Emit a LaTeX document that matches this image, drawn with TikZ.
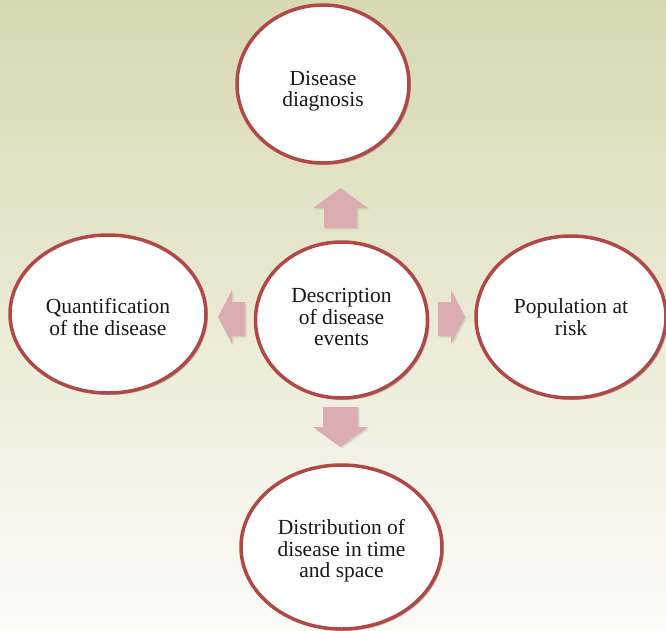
\documentclass[tikz,border=0pt]{standalone}
\usepackage{fontspec}
\setmainfont{Liberation Serif}
\usetikzlibrary{shapes.geometric,shadows}
\definecolor{ringred}{RGB}{176,72,69}
\definecolor{arrowpink}{RGB}{219,173,176}
\definecolor{bgtop}{RGB}{216,216,178}
\definecolor{bgbot}{RGB}{252,252,248}
\tikzset{
  bubble/.style={ellipse, draw=ringred, line width=3.5pt, fill=white, inner sep=0pt,
    drop shadow={shadow xshift=2pt, shadow yshift=-2pt, opacity=0.35, fill=black!60}},
  bubbletext/.style={align=center, inner sep=0pt, text=black!90,
    font=\fontsize{21.5}{21.5}\selectfont},
  blockarrow/.style={fill=arrowpink, draw=none,
    drop shadow={shadow xshift=1.5pt, shadow yshift=-1.5pt, opacity=0.2}}
}
\begin{document}
\begin{tikzpicture}[x=1pt,y=-1pt]
\useasboundingbox (0,0) rectangle (666,630);
\shade[top color=bgtop, bottom color=bgbot] (0,0) rectangle (666,630);
% block arrows
\path[blockarrow] (340.5,188) -- (368,208) -- (357,208) -- (357,228) -- (324,228) -- (324,208) -- (313,208) -- cycle;
\path[blockarrow] (340.5,447) -- (368,427) -- (358,427) -- (358,407) -- (323,407) -- (323,427) -- (313,427) -- cycle;
\path[blockarrow] (218,317) -- (232,290) -- (232,302) -- (245,302) -- (245,336) -- (232,336) -- (232,344) -- cycle;
\path[blockarrow] (465,317) -- (451,290) -- (451,302) -- (438,302) -- (438,336) -- (451,336) -- (451,344) -- cycle;
% ellipses
\node[bubble, minimum width=172pt, minimum height=158pt,
  label={[bubbletext, yshift=-7pt]center:Disease\\diagnosis}] (diag) at (323,84) {};
\node[bubble, minimum width=172pt, minimum height=156pt,
  label={[bubbletext, yshift=3pt]center:Description\\of disease\\events}] (desc) at (341.5,320) {};
\node[bubble, minimum width=196pt, minimum height=158pt,
  label={[bubbletext, yshift=-3pt]center:Quantification\\of the disease}] (quant) at (108,314) {};
\node[bubble, minimum width=190pt, minimum height=162pt,
  label={[bubbletext, yshift=0pt]center:Population at\\risk}] (pop) at (571,317) {};
\node[bubble, minimum width=201pt, minimum height=164pt,
  label={[bubbletext, yshift=-4pt]center:Distribution of\\disease in time\\and space}] (dist) at (341.5,547) {};
\end{tikzpicture}
\end{document}
